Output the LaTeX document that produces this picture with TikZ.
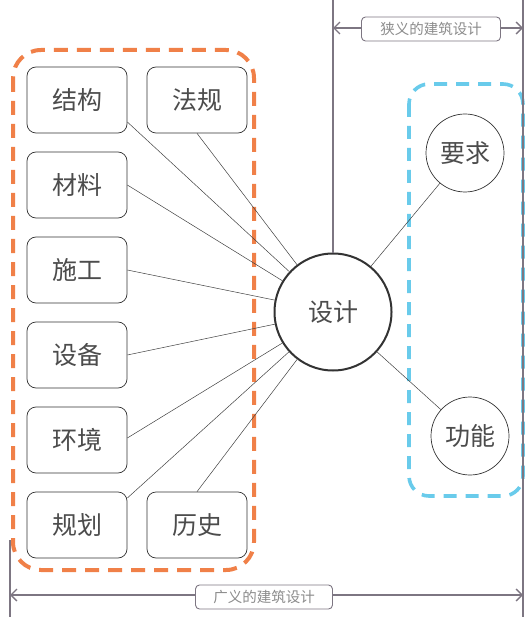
\documentclass[tikz,border=0pt]{standalone}
\usepackage{fontspec}
\setmainfont{Noto Sans CJK SC}
\usetikzlibrary{arrows.meta}
\definecolor{orng}{RGB}{240,128,72}
\definecolor{sky}{RGB}{105,203,235}
\definecolor{dimgray}{RGB}{125,118,130}
\begin{document}
\begin{tikzpicture}[x=1pt,y=-1pt,
  box/.style={draw=black!80, rounded corners=9pt, minimum width=100pt, minimum height=66pt,
    font=\fontsize{25}{25}\selectfont, text=black!70, line width=0.7pt, fill=white},
  ball/.style={draw=black!80, circle, minimum size=78pt, inner sep=0pt,
    font=\fontsize{25}{25}\selectfont, text=black!70, line width=0.7pt, fill=white},
  link/.style={draw=black!75, line width=0.5pt},
  dimline/.style={draw=dimgray, line width=1.3pt},
  dimtip/.style={dimline, {Straight Barb[length=6pt,width=12pt]}-{Straight Barb[length=6pt,width=12pt]}},
  dimlabel/.style={draw=dimgray, fill=white, rounded corners=4pt, line width=0.9pt,
    font=\fontsize{14.5}{14.5}\selectfont, text=black!45, minimum height=24pt, inner xsep=8pt},
  orangebox/.style={draw=orng, line width=4pt, dash pattern=on 14pt off 9pt, rounded corners=28pt},
  bluebox/.style={draw=sky, line width=3.6pt, dash pattern=on 13pt off 9pt, rounded corners=20pt}
]
\useasboundingbox (0,0) rectangle (528,617);

% dashed groups
\draw[orangebox] (13,50) rectangle (254,570);
\draw[bluebox] (409,84) rectangle (523,496);

% centre
\node[ball, minimum size=117pt, line width=2pt, font=\fontsize{25}{25}\selectfont] (sj) at (333,312) {设计};

% left boxes
\node[box] (jg) at (77,100) {结构};
\node[box] (fg) at (197,100) {法规};
\node[box] (cl) at (77,185) {材料};
\node[box] (sg) at (77,270) {施工};
\node[box] (sb) at (77,355) {设备};
\node[box] (hj) at (77,440) {环境};
\node[box] (gh) at (77,525) {规划};
\node[box] (ls) at (197,525) {历史};

% right circles
\node[ball] (yq) at (465,153) {要求};
\node[ball] (gn) at (470,436) {功能};

% connectors
\draw[link] ([yshift=-22pt]jg.east) -- (sj);
\draw[link] (fg.south) -- (sj);
\draw[link] (cl.east) -- (sj);
\draw[link] (sg.east) -- (sj);
\draw[link] (sb.east) -- (sj);
\draw[link] ([yshift=2pt]hj.east) -- (sj);
\draw[link] ([yshift=27pt]gh.east) -- (sj);
\draw[link] (ls.north) -- (sj);
\draw[link] (yq) -- (sj);
\draw[link] (gn) -- (sj);

% extension lines
\coordinate (ctop) at (333,0);
\coordinate (rtop) at (523,0);
\coordinate (rbot) at (523,617);
\coordinate (ltop) at (10,540);
\coordinate (lbot) at (10,617);
\draw[dimline] (sj.north) -- (ctop);
\draw[dimline] (rtop) -- (rbot);
\draw[dimline] (ltop) -- (lbot);

% dimension arrows
\coordinate (ta) at (333,28);
\coordinate (tb) at (523,28);
\draw[dimtip] (ta) -- (tb);
\node[dimlabel, minimum width=139pt] (narrow) at (431,29) {狭义的建筑设计};

\coordinate (ba) at (10,595);
\coordinate (bb) at (523,595);
\draw[dimtip] (ba) -- (bb);
\node[dimlabel, minimum width=137pt] (broad) at (264,597) {广义的建筑设计};
\end{tikzpicture}
\end{document}
